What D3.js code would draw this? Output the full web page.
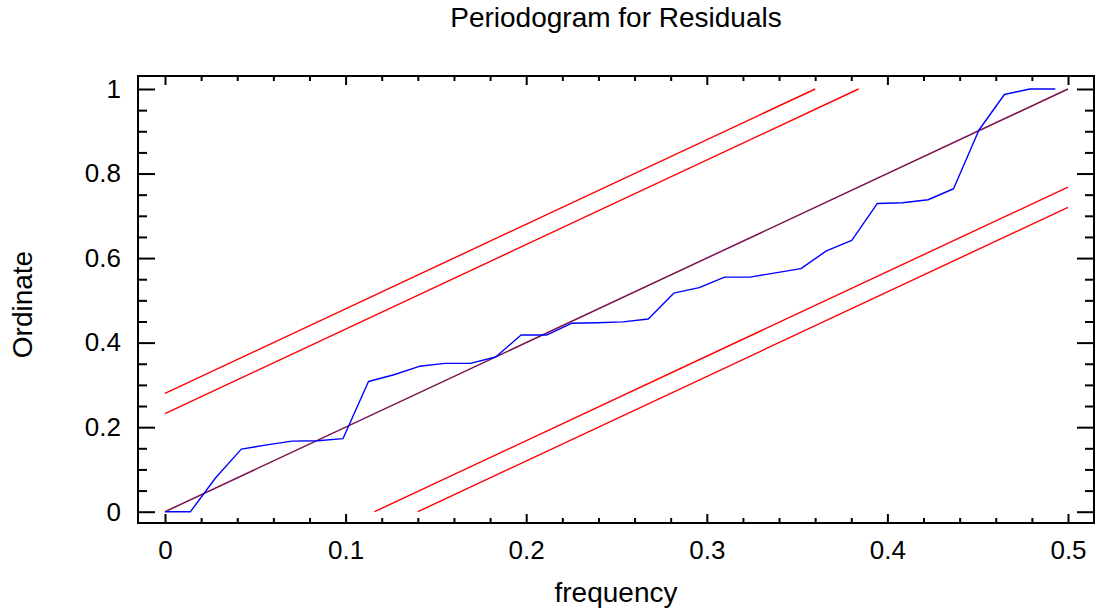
<!DOCTYPE html>
<html>
<head>
<meta charset="utf-8">
<script src="https://cdnjs.cloudflare.com/ajax/libs/d3/7.8.5/d3.min.js"></script>
<style>
  body { margin: 0; background: #fff; }
  svg { display: block; font-family: "Liberation Sans", Arial, sans-serif; }
  .axis path.domain { display: none; }
  .axis line { stroke: #000; stroke-width: 2; }
  .axis text { font-size: 26px; fill: #000; }
</style>
</head>
<body>
<svg id="chart"></svg>
<script>
// cumulative periodogram of residuals, frequencies k/71
var freq = d3.range(36).map(function(k){ return k / 71; });
var ordinate = [0, 0, 0.081, 0.148, 0.158, 0.167, 0.168, 0.173, 0.308, 0.324,
                0.344, 0.351, 0.351, 0.366, 0.418, 0.418, 0.446, 0.447, 0.449, 0.456,
                0.517, 0.530, 0.555, 0.555, 0.565, 0.575, 0.617, 0.642, 0.729, 0.731,
                0.738, 0.764, 0.903, 0.987, 1.0, 1.0];

// reference diagonal and Kolmogorov bounds, as [freq, ordinate] end points
var diagLine = [[0, 0], [0.5, 1]];
var boundLines = [
    [[0, 0.280], [0.360, 1]],
    [[0, 0.232], [0.384, 1]],
    [[0.116, 0], [0.5, 0.768]],
    [[0.140, 0], [0.5, 0.720]]
];

var xMajor = [0, 0.1, 0.2, 0.3, 0.4, 0.5];
var yMajor = [0, 0.2, 0.4, 0.6, 0.8, 1];

var svgWidth = 1097, svgHeight = 610;
var frame = {left: 138, top: 76, right: 1094, bottom: 523};

var svg = d3.select('#chart').attr('width', svgWidth).attr('height', svgHeight);

var xScale = d3.scaleLinear().domain([0, 0.5]).range([165, 1068]);
var yScale = d3.scaleLinear().domain([0, 1]).range([511.7, 89]);

var xMinor = d3.range(0, 0.5101, 0.02).map(function(v){ return +v.toFixed(2); })
                .filter(function(v){ return xMajor.indexOf(v) < 0; });
var yMinor = d3.range(0, 1.01, 0.05).map(function(v){ return +v.toFixed(2); })
                .filter(function(v){ return yMajor.indexOf(v) < 0; });

// bottom axis
svg.append('g').attr('class', 'axis')
    .attr('transform', 'translate(0,' + frame.bottom + ')')
    .call(d3.axisBottom(xScale).tickValues(xMajor).tickSize(-9).tickPadding(18)
        .tickFormat(function(d){ return d === 0 ? '0' : d3.format('.1f')(d); }));
svg.append('g').attr('class', 'axis')
    .attr('transform', 'translate(0,' + frame.bottom + ')')
    .call(d3.axisBottom(xScale).tickValues(xMinor).tickSize(-5).tickFormat(''));
// top axis
svg.append('g').attr('class', 'axis')
    .attr('transform', 'translate(0,' + frame.top + ')')
    .call(d3.axisTop(xScale).tickValues(xMajor).tickSize(-9).tickFormat(''));
svg.append('g').attr('class', 'axis')
    .attr('transform', 'translate(0,' + frame.top + ')')
    .call(d3.axisTop(xScale).tickValues(xMinor).tickSize(-5).tickFormat(''));
// left axis
svg.append('g').attr('class', 'axis')
    .attr('transform', 'translate(' + frame.left + ',0)')
    .call(d3.axisLeft(yScale).tickValues(yMajor).tickSize(-17).tickPadding(17)
        .tickFormat(function(d){ return (d === 0 || d === 1) ? String(d) : d3.format('.1f')(d); }));
svg.append('g').attr('class', 'axis')
    .attr('transform', 'translate(' + frame.left + ',0)')
    .call(d3.axisLeft(yScale).tickValues(yMinor).tickSize(-9).tickFormat(''));
// right axis
svg.append('g').attr('class', 'axis')
    .attr('transform', 'translate(' + frame.right + ',0)')
    .call(d3.axisRight(yScale).tickValues(yMajor).tickSize(-17).tickFormat(''));
svg.append('g').attr('class', 'axis')
    .attr('transform', 'translate(' + frame.right + ',0)')
    .call(d3.axisRight(yScale).tickValues(yMinor).tickSize(-9).tickFormat(''));

// frame
svg.append('rect')
    .attr('x', frame.left).attr('y', frame.top)
    .attr('width', frame.right - frame.left).attr('height', frame.bottom - frame.top)
    .attr('fill', 'none').attr('stroke', '#000').attr('stroke-width', 2);

var line = d3.line()
    .x(function(d){ return xScale(d[0]); })
    .y(function(d){ return yScale(d[1]); });

svg.selectAll('.bound')
    .data(boundLines)
    .enter()
    .append('path')
    .attr('class', 'bound')
    .attr('d', line)
    .attr('fill', 'none').attr('stroke', '#ff0000').attr('stroke-width', 1.4);

svg.append('path')
    .attr('d', line(diagLine))
    .attr('fill', 'none').attr('stroke', '#780f4e').attr('stroke-width', 1.5);

svg.append('path')
    .attr('d', line(freq.map(function(f, i){ return [f, ordinate[i]]; })))
    .attr('fill', 'none').attr('stroke', '#0000ff').attr('stroke-width', 1.4)
    .attr('stroke-linejoin', 'round');

// titles
svg.append('text')
    .attr('x', (frame.left + frame.right) / 2).attr('y', 27)
    .attr('text-anchor', 'middle').attr('font-size', 28)
    .text('Periodogram for Residuals');

svg.append('text')
    .attr('x', (frame.left + frame.right) / 2).attr('y', 602)
    .attr('text-anchor', 'middle').attr('font-size', 28)
    .text('frequency');

svg.append('text')
    .attr('transform', 'translate(32,' + ((frame.top + frame.bottom) / 2 + 5) + ') rotate(-90)')
    .attr('text-anchor', 'middle').attr('font-size', 28)
    .text('Ordinate');
</script>
</body>
</html>
